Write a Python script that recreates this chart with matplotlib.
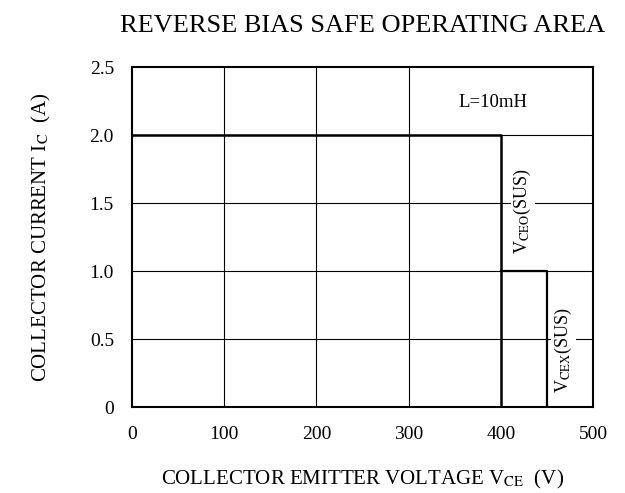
import matplotlib.pyplot as plt

# reverse bias safe operating area boundary
soa_v = [0, 400, 400]
soa_i = [2.0, 2.0, 0]
step_v = [400, 450, 450]
step_i = [1.0, 1.0, 0]

xticks = [0, 100, 200, 300, 400, 500]
yticks = [0, 0.5, 1.0, 1.5, 2.0, 2.5]
ytick_labels = ['0', '0.5', '1.0', '1.5', '2.0', '2.5']

plt.rcParams['font.family'] = ['Liberation Serif', 'DejaVu Serif']
plt.rcParams['mathtext.fontset'] = 'stix'

fig = plt.figure(figsize=(6.25, 4.93), dpi=100)
ax = fig.add_axes([0.2112, 0.1744, 0.7376, 0.6896])

# grid, no line at 400 above the boundary
for x in xticks[1:-2]:
    ax.axvline(x, color='black', lw=0.8, zorder=1)
for y in yticks[1:-1]:
    ax.axhline(y, color='black', lw=0.8, zorder=1)

ax.plot(soa_v, soa_i, color='black', lw=1.8, zorder=3)
ax.plot(step_v, step_i, color='black', lw=1.6, zorder=3)

ax.text(392, 2.24, 'L=10mH', ha='center', va='center', fontsize=13.5)
ax.text(424, 1.44, r'V$_{\mathrm{CEO}}$(SUS)', rotation=90, ha='center', va='center',
        fontsize=13, zorder=4,
        bbox=dict(facecolor='white', edgecolor='none', pad=1))
ax.text(468, 0.42, r'V$_{\mathrm{CEX}}$(SUS)', rotation=90, ha='center', va='center',
        fontsize=13, zorder=4,
        bbox=dict(facecolor='white', edgecolor='none', pad=1))

ax.set_xlim(0, 500)
ax.set_ylim(0, 2.5)
ax.set_xticks(xticks)
ax.set_xticklabels([str(v) for v in xticks])
ax.set_yticks(yticks)
ax.set_yticklabels(ytick_labels)
ax.tick_params(length=0, labelsize=14)
ax.tick_params(axis='x', pad=14)
ax.tick_params(axis='y', pad=13)
for s in ax.spines.values():
    s.set_linewidth(1.5)

ax.set_title('REVERSE BIAS SAFE OPERATING AREA', fontsize=19, pad=25)
ax.set_xlabel(r'COLLECTOR EMITTER VOLTAGE V$_{\mathrm{CE}}$  (V)', fontsize=15, labelpad=18)
ax.set_ylabel(r'COLLECTOR CURRENT I$_{\mathrm{C}}$  (A)', fontsize=15, labelpad=26)

fig.savefig('out.png', dpi=100)
